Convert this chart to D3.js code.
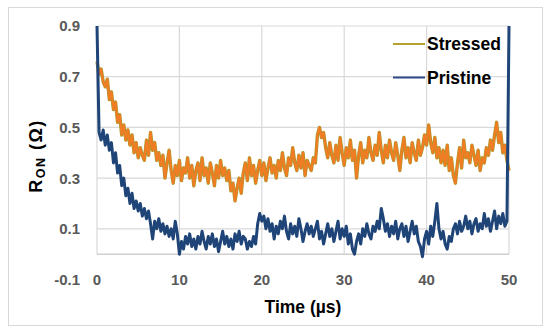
<!DOCTYPE html>
<html>
<head>
<meta charset="utf-8">
<script src="https://cdn.jsdelivr.net/npm/d3@7"></script>
<style>
  html, body { margin: 0; padding: 0; background: #fff; }
  svg { display: block; }
</style>
</head>
<body>
<svg id="chart" width="550" height="336"></svg>
<script>
// ---- data ----
const timeStep = 0.25; // µs between samples
const stressed = [
  0.76,0.71,0.73,0.68, 0.66,0.69,0.61,0.64, 0.57,0.60,0.52,0.55, 0.47,0.51,0.45,0.49,
  0.43,0.47,0.40,0.44, 0.38,0.42,0.39,0.37, 0.45,0.39,0.48,0.41, 0.44,0.37,0.40,0.35,
  0.39,0.30,0.36,0.41, 0.33,0.28,0.35,0.31, 0.37,0.29,0.34,0.32, 0.38,0.30,0.35,0.27,
  0.33,0.36,0.29,0.38, 0.31,0.34,0.28,0.36, 0.32,0.27,0.35,0.30, 0.37,0.31,0.34,0.29,
  0.33,0.25,0.28,0.21, 0.26,0.30,0.24,0.32, 0.36,0.29,0.38,0.31, 0.35,0.28,0.33,0.37,
  0.31,0.36,0.29,0.34, 0.38,0.32,0.35,0.30, 0.37,0.33,0.40,0.34, 0.31,0.38,0.35,0.42,
  0.36,0.33,0.39,0.34, 0.40,0.31,0.37,0.35, 0.33,0.38,0.36,0.47, 0.50,0.46,0.48,0.42,
  0.38,0.44,0.39,0.36, 0.43,0.37,0.46,0.40, 0.35,0.42,0.38,0.45, 0.37,0.41,0.30,0.39,
  0.44,0.36,0.41,0.38, 0.46,0.40,0.37,0.43, 0.39,0.48,0.41,0.36, 0.43,0.38,0.45,0.40,
  0.37,0.44,0.39,0.33, 0.41,0.46,0.38,0.42, 0.36,0.44,0.40,0.37, 0.45,0.39,0.42,0.47,
  0.43,0.51,0.44,0.40, 0.46,0.38,0.42,0.36, 0.41,0.35,0.43,0.33, 0.38,0.31,0.28,0.36,
  0.42,0.34,0.45,0.38, 0.40,0.36,0.43,0.39, 0.35,0.41,0.33,0.38, 0.36,0.42,0.39,0.45,
  0.41,0.47,0.52,0.44, 0.48,0.40,0.43,0.37, 0.33
];
const pristine = [
  0.90,0.48,0.45,0.49, 0.43,0.47,0.41,0.44, 0.36,0.40,0.32,0.35, 0.27,0.30,0.23,0.26,
  0.20,0.24,0.18,0.21, 0.17,0.20,0.15,0.18, 0.14,0.17,0.12,0.06, 0.13,0.10,0.14,0.09,
  0.12,0.08,0.11,0.07, 0.10,0.06,0.13,0.08, 0.00,0.05,0.02,0.07, 0.04,0.08,0.03,0.06,
  0.02,0.07,0.04,0.09, 0.05,0.02,0.07,0.04, 0.08,0.03,0.06,0.01, 0.05,0.09,0.04,0.07,
  0.03,0.06,0.02,0.08, 0.05,0.09,0.04,0.07, 0.06,0.02,0.05,0.03, 0.07,0.04,0.12,0.16,
  0.13,0.15,0.10,0.14, 0.09,0.12,0.06,0.11, 0.08,0.13,0.10,0.15, 0.09,0.06,0.12,0.08,
  0.11,0.07,0.14,0.10, 0.05,0.09,0.12,0.08, 0.11,0.07,0.10,0.13, 0.06,0.09,0.04,0.08,
  0.12,0.07,0.10,0.05, 0.09,0.13,0.06,0.10, 0.07,0.11,0.04,0.08, 0.02,0.00,0.05,0.08,
  0.04,0.10,0.07,0.12, 0.08,0.06,0.11,0.09, 0.13,0.10,0.18,0.14, 0.09,0.12,0.07,0.11,
  0.08,0.13,0.06,0.10, 0.12,0.07,0.11,0.05, 0.09,0.13,0.08,0.11, 0.05,0.03,-0.01,0.06,
  0.09,0.04,0.11,0.07, 0.13,0.20,0.10,0.06, 0.09,0.04,0.02,0.07, 0.05,0.10,0.12,0.08,
  0.13,0.09,0.11,0.15, 0.10,0.13,0.08,0.12, 0.14,0.09,0.12,0.10, 0.16,0.11,0.14,0.09,
  0.13,0.17,0.10,0.15, 0.12,0.16,0.11,0.13, 0.90
];
const xTicks = [0, 10, 20, 30, 40, 50];
const yTicks = [-0.1, 0.1, 0.3, 0.5, 0.7, 0.9];
const yTickLabels = ["-0.1", "0.1", "0.3", "0.5", "0.7", "0.9"];
const seriesNames = ["Stressed", "Pristine"];

// ---- drawing ----
const svg = d3.select("#chart");
const x = d3.scaleLinear().domain([0, 50]).range([97, 509]);
const y = d3.scaleLinear().domain([-0.1, 0.9]).range([279.5, 26]);

svg.append("rect").attr("x", 8.5).attr("y", 7.5).attr("width", 534).attr("height", 318)
  .attr("fill", "#fff").attr("stroke", "#d9d9d9").attr("stroke-width", 1);

const grid = svg.append("g").attr("stroke", "#d9d9d9").attr("stroke-width", 1.2);
yTicks.filter(v => v > 0).forEach(v => {
  grid.append("line").attr("x1", x(0)).attr("x2", x(50))
    .attr("y1", y(v)).attr("y2", y(v));
});
xTicks.forEach(v => {
  grid.append("line").attr("x1", x(v)).attr("x2", x(v))
    .attr("y1", y(0.9)).attr("y2", y(0));
});
// horizontal axis line at 0
svg.append("line").attr("x1", x(0)).attr("x2", x(50)).attr("y1", y(0)).attr("y2", y(0))
  .attr("stroke", "#cfcfcf").attr("stroke-width", 1.5);

const font = "'Liberation Sans', Arial, sans-serif";
// y tick labels
svg.append("g").selectAll("text").data(yTicks).join("text")
  .attr("x", 80).attr("y", d => y(d)).attr("dy", "0.36em")
  .attr("text-anchor", "end").attr("font-family", font).attr("font-weight", "bold")
  .attr("font-size", 15).attr("fill", "#595959")
  .text((d, i) => yTickLabels[i]);
// x tick labels
svg.append("g").selectAll("text").data(xTicks).join("text")
  .attr("x", d => x(d)).attr("y", y(-0.1)).attr("dy", "0.36em")
  .attr("text-anchor", "middle").attr("font-family", font).attr("font-weight", "bold")
  .attr("font-size", 15).attr("fill", "#595959")
  .text(d => d);

// axis titles
svg.append("text").attr("x", (x(0) + x(50)) / 2).attr("y", 313)
  .attr("text-anchor", "middle").attr("font-family", font).attr("font-weight", "bold")
  .attr("font-size", 17.5).attr("fill", "#000").text("Time (µs)");

const yt = svg.append("text").attr("transform", "translate(42,156) rotate(-90)")
  .attr("text-anchor", "middle").attr("font-family", font).attr("font-weight", "bold")
  .attr("font-size", 18).attr("letter-spacing", 1.5).attr("fill", "#000");
yt.append("tspan").text("R");
yt.append("tspan").attr("font-size", 12.5).attr("dy", 3).text("ON");
yt.append("tspan").attr("dy", -3).text(" (Ω)");

// lines
const line = d3.line().x((d, i) => x(i * timeStep)).y(d => y(d));
const plot = svg.append("g");
plot.append("path").datum(stressed).attr("d", line).attr("fill", "none")
  .attr("stroke", "#a89a2c").attr("stroke-width", 3.4).attr("stroke-linejoin", "round");
plot.append("path").datum(stressed).attr("d", line).attr("fill", "none")
  .attr("stroke", "#f07c24").attr("stroke-width", 2.2).attr("stroke-linejoin", "round");
plot.append("path").datum(pristine).attr("d", line).attr("fill", "none")
  .attr("stroke", "#1f4478").attr("stroke-width", 3).attr("stroke-linejoin", "round");

// legend
const legColors = ["#b5a22e", "#2e4a8a"];
const leg = svg.append("g");
seriesNames.forEach((name, i) => {
  const ly = 44 + i * 33.5;
  leg.append("line").attr("x1", 393).attr("x2", 425).attr("y1", ly).attr("y2", ly)
    .attr("stroke", legColors[i]).attr("stroke-width", 2);
  leg.append("text").attr("x", 427).attr("y", ly).attr("dy", "0.36em")
    .attr("font-family", font).attr("font-weight", "bold").attr("font-size", 17.5)
    .attr("fill", "#000").text(name);
});
</script>
</body>
</html>
